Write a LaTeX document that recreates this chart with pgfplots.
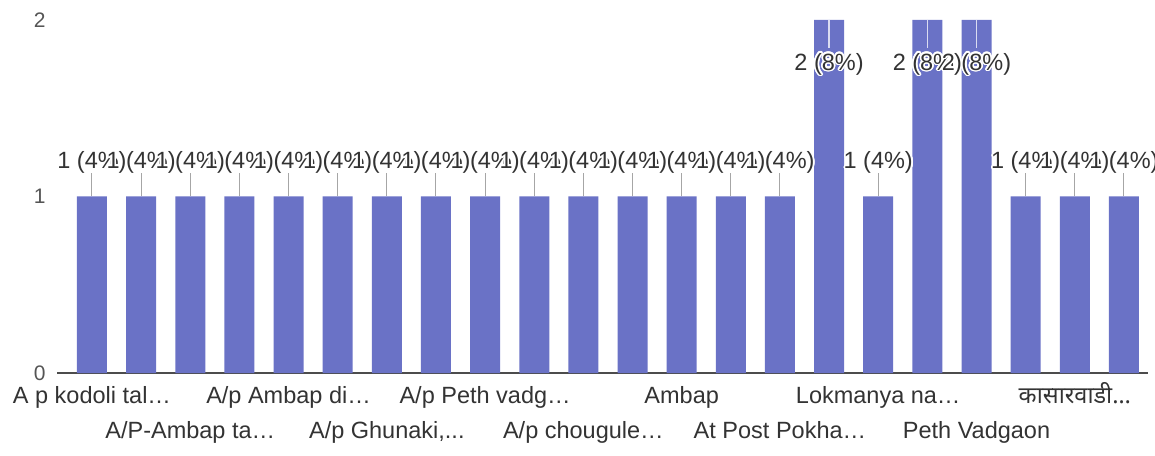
\documentclass[border=0pt]{standalone}
\usepackage{fontspec}
\setmainfont{Liberation Sans}
\newfontfamily\devfont[Script=Devanagari]{Noto Sans}
\usepackage[copies]{contour}
\contourlength{1.6bp}
\contournumber{20}
\usepackage{pgfplots}
\pgfplotsset{compat=1.18}
\definecolor{barblue}{HTML}{6A72C6}
\definecolor{txt}{HTML}{333333}
\definecolor{ticktxt}{HTML}{555555}

% responses per category (count)
\pgfplotstableread{
x y
0 1
1 1
2 1
3 1
4 1
5 1
6 1
7 1
8 1
9 1
10 1
11 1
12 1
13 1
14 1
16 1
19 1
20 1
21 1
}\ones
\pgfplotstableread{
x y
15 2
17 2
18 2
}\twos

\begin{document}
\begin{tikzpicture}
\begin{axis}[
  scale only axis, width=1091bp, height=353bp,
  xmin=-0.712, xmax=21.49, ymin=0, ymax=2,
  axis x line*=bottom, axis y line*=left,
  x axis line style={draw=black!70, line width=1.5bp},
  y axis line style={draw=none},
  ytick={0,1,2}, major tick length=0pt,
  yticklabel style={font=\fontsize{21bp}{25bp}\selectfont, text=ticktxt, xshift=-8bp},
  /pgf/number format/assume math mode=true,
  xtick={0,4,8,12,16,20},
  xticklabels={A p kodoli tal…, A/p Ambap di…, A/p Peth vadg…, Ambap, Lokmanya na…, \devfont कासारवाडी…},
  xticklabel style={font=\fontsize{23.5bp}{28bp}\selectfont, text=txt, anchor=base, yshift=-30bp},
  extra x ticks={2,6,10,14,18},
  extra x tick labels={A/P-Ambap ta…, {A/p Ghunaki,{.}{.}{.}}, A/p chougule…, At Post Pokha…, Peth Vadgaon},
  extra x tick style={xticklabel style={yshift=-35bp}},
  ybar, bar width=30bp, bar shift=0pt,
  clip=false,
]
\addplot[fill=barblue, draw=none,
  nodes near coords={\contour{white}{2 (8\%)}},
  every node near coord/.append style={anchor=base, yshift=-50bp, inner sep=0pt, text=txt,
    font=\fontsize{23.5bp}{28bp}\selectfont,
    append after command={([yshift=50bp]\tikzlastnode.base) edge[draw=white!75!barblue, line width=1.5bp] ([yshift=22bp]\tikzlastnode.base)}}
] table[x=x, y=y] {\twos};
\addplot[fill=barblue, draw=none,
  nodes near coords={\contour{white}{1 (4\%)}},
  every node near coord/.append style={anchor=base, yshift=28bp, inner sep=0pt, text=txt,
    font=\fontsize{23.5bp}{28bp}\selectfont,
    append after command={([yshift=-5bp]\tikzlastnode.base) edge[draw=black!35, line width=1bp] ([yshift=-28bp]\tikzlastnode.base)}}
] table[x=x, y=y] {\ones};
\end{axis}
\pgfresetboundingbox
\useasboundingbox (-57bp,-83bp) rectangle (1098bp,373bp);
\end{tikzpicture}
\end{document}
